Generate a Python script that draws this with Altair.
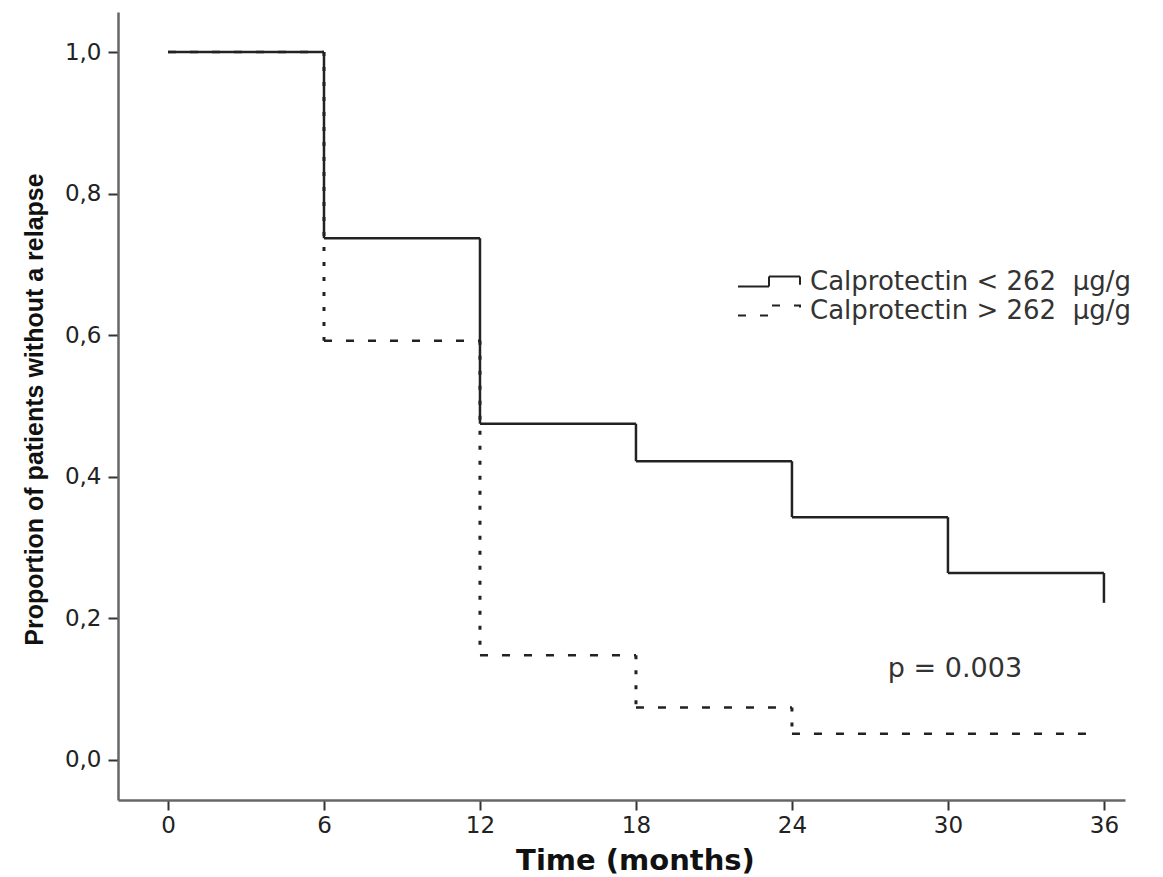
import altair as alt
import pandas as pd

# ---- data ----
GROUPS = ["Calprotectin < 262\u00a0 µg/g", "Calprotectin > 262\u00a0 µg/g"]

LOW_TIMES = [0, 6, 12, 18, 24, 30, 36]
LOW_SURV = [1.0, 0.737, 0.475, 0.422, 0.343, 0.264, 0.222]
LOW_END = 36

HIGH_TIMES = [0, 6, 12, 18, 24]
HIGH_SURV = [1.0, 0.592, 0.148, 0.074, 0.037]
HIGH_END = 35.5

X_TICKS = [0, 6, 12, 18, 24, 30, 36]
Y_TICKS = [0.0, 0.2, 0.4, 0.6, 0.8, 1.0]

P_LABEL = ["p = 0.003"]
P_LABEL_TIME = [30.27]
P_LABEL_SURV = [0.128]

# ---- build segment tables ----
h_rows, v_rows = [], []
for g, times, surv, end in [(GROUPS[0], LOW_TIMES, LOW_SURV, LOW_END),
                            (GROUPS[1], HIGH_TIMES, HIGH_SURV, HIGH_END)]:
    for i, (t, s) in enumerate(zip(times, surv)):
        t_next = times[i + 1] if i + 1 < len(times) else end
        h_rows.append({"group": g, "t0": t, "t1": t_next, "s": s})
        if i > 0:
            v_rows.append({"group": g, "t": t, "s0": surv[i - 1], "s1": s})
h_df = pd.DataFrame(h_rows)
v_df = pd.DataFrame(v_rows)
p_df = pd.DataFrame({"t": P_LABEL_TIME, "s": P_LABEL_SURV, "label": P_LABEL})

INK = "#222222"

x_scale = alt.Scale(domain=[-1.923, 36.81], nice=False, zero=False)
y_scale = alt.Scale(domain=[-0.0565, 1.0565], nice=False, zero=False)

x_axis = alt.Axis(
    values=X_TICKS, title="Time (months)", grid=False,
    domainColor="#666666", domainWidth=2.5,
    tickColor="#333333", tickWidth=2, tickSize=10,
    labelFont="DejaVu Sans", labelFontSize=23, labelColor="#222222", labelPadding=4,
    labelFlush=False,
    titleFont="DejaVu Sans", titleFontSize=29, titleFontWeight="bold", titleColor="#111111",
    titleX=517, titleY=69, titleAlign="center", titleBaseline="alphabetic",
)
y_axis = alt.Axis(
    values=Y_TICKS, title="Proportion of patients without a relapse", grid=False,
    labelExpr="replace(format(datum.value, '.1f'), '.', ',')",
    domainColor="#666666", domainWidth=2.5,
    tickColor="#333333", tickWidth=2, tickSize=10,
    labelFont="DejaVu Sans", labelFontSize=23, labelColor="#222222", labelPadding=7,
    labelFlush=False,
    titleFont="Liberation Sans", titleFontSize=25, titleFontWeight="bold",
    titleColor="#111111",
    titleX=-76, titleY=397, titleAngle=270, titleAlign="center", titleBaseline="alphabetic",
)

legend = alt.Legend(
    title=None, orient="none", legendX=656, legendY=256,
    symbolType="M-3.96,0.4 H-1.48 V-0.4 H1 V0.25",
    symbolSize=625, symbolStrokeWidth=2, symbolStrokeColor=INK,
    symbolFillColor="transparent",
    labelFont="DejaVu Sans", labelFontSize=26, labelColor="#333333",
    labelOffset=9, labelLimit=600, padding=0, rowPadding=2,
)

horiz = alt.Chart(h_df).mark_rule(color=INK, strokeWidth=2.5).encode(
    x=alt.X("t0:Q", scale=x_scale, axis=x_axis),
    x2="t1:Q",
    y=alt.Y("s:Q", scale=y_scale, axis=y_axis),
    strokeDash=alt.StrokeDash(
        "group:N",
        scale=alt.Scale(domain=GROUPS, range=[[1, 0], [8, 14]]),
        legend=legend,
    ),
)

vert_solid = alt.Chart(v_df).transform_filter(
    alt.datum.group == GROUPS[0]
).mark_rule(color=INK, strokeWidth=2.5).encode(
    x=alt.X("t:Q", scale=x_scale),
    y=alt.Y("s0:Q", scale=y_scale),
    y2="s1:Q",
)

vert_dash = alt.Chart(v_df).transform_filter(
    alt.datum.group == GROUPS[1]
).mark_rule(color=INK, strokeWidth=3, strokeDash=[4, 11]).encode(
    x=alt.X("t:Q", scale=x_scale),
    y=alt.Y("s0:Q", scale=y_scale),
    y2="s1:Q",
)

ptext = alt.Chart(p_df).mark_text(
    font="DejaVu Sans", fontSize=27, color="#333333", align="center", baseline="middle"
).encode(
    x=alt.X("t:Q", scale=x_scale),
    y=alt.Y("s:Q", scale=y_scale),
    text="label:N",
)

chart = alt.layer(horiz, vert_solid, vert_dash, ptext).properties(
    width=1007, height=788,
    padding={"left": 118, "top": 12, "right": 38, "bottom": 77},
    autosize=alt.AutoSizeParams(type="none"),
    background="white",
).configure_view(strokeWidth=0)

chart.save("out.html", embed_options={"renderer": "svg", "actions": False})
